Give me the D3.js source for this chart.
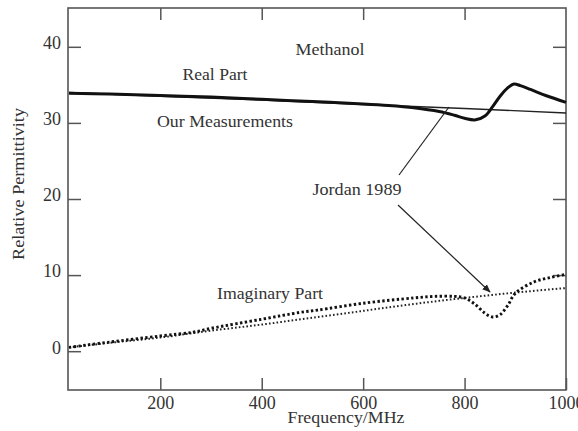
<!DOCTYPE html>
<html><head><meta charset="utf-8">
<script src="https://cdn.jsdelivr.net/npm/d3@7"></script>
<style>body{margin:0;background:#fff}svg{display:block}</style>
</head><body>
<svg id="c" width="578" height="431"></svg>
<script>
// ---- data ----
const realMeasFreq = [20,100,200,300,400,500,600,650,700,750,780,800,822,840,855,870,885,897,910,930,960,1000];
const realMeasVal  = [33.9,33.8,33.6,33.4,33.1,32.8,32.5,32.3,32.0,31.5,31.0,30.6,30.4,30.9,32.1,33.5,34.6,35.1,34.9,34.4,33.6,32.7];
const realJordFreq = [20,200,400,600,800,1000];
const realJordVal  = [34.0,33.5,33.0,32.4,31.9,31.3];
const imagMeasFreq = [20,100,200,265,300,400,476,510,600,700,740,780,800,820,840,855,870,885,900,937,970,1000];
const imagMeasVal  = [0.5,1.2,2.0,2.5,3.0,4.2,5.1,5.4,6.3,7.0,7.2,7.2,7.0,6.2,5.0,4.5,4.8,6.0,7.6,9.1,9.7,10.1];
const imagJordFreq = [20,100,200,300,400,500,600,700,800,900,1000];
const imagJordVal  = [0.5,1.1,1.8,2.7,3.5,4.4,5.3,6.2,7.0,7.7,8.3];
const xTicks = [200,400,600,800,1000];
const yTicks = [0,10,20,30,40];

const svg = d3.select('#c');
const L=68, R=566, T=8, B=390;
const x = d3.scaleLinear().domain([18,1000]).range([L,R]);
const y = d3.scaleLinear().domain([-5.1,45.1]).range([B,T]);
const font = '"Liberation Serif", "Times New Roman", serif';
const ink = '#333';
const axisCol = '#555';

// frame
svg.append('rect').attr('x',L).attr('y',T).attr('width',R-L).attr('height',B-T)
  .attr('fill','none').attr('stroke',axisCol).attr('stroke-width',1.6);

// axes with inward ticks
const gx = svg.append('g').attr('transform',`translate(0,${B})`)
  .call(d3.axisBottom(x).tickValues(xTicks).tickSize(-12).tickPadding(6).tickFormat(d3.format('d')));
const gxt = svg.append('g').attr('transform',`translate(0,${T})`)
  .call(d3.axisTop(x).tickValues(xTicks.slice(0,4)).tickSize(-12).tickFormat(''));
const gy = svg.append('g').attr('transform',`translate(${L},0)`)
  .call(d3.axisLeft(y).tickValues(yTicks).tickSize(-13).tickPadding(7).tickFormat(d3.format('d')));
const gyr = svg.append('g').attr('transform',`translate(${R},0)`)
  .call(d3.axisRight(y).tickValues(yTicks.slice(1)).tickSize(-13).tickFormat(''));
[gx,gxt,gy,gyr].forEach(g=>{
  g.select('.domain').remove();
  g.selectAll('.tick line').attr('stroke',axisCol).attr('stroke-width',1.5);
  g.selectAll('text').attr('font-family',font).attr('font-size',18).attr('fill',ink);
});
gy.selectAll('.tick text').attr('dy','0.1em');

const lab = (t,cx,cy,w)=>svg.append('text').attr('x',cx).attr('y',cy).attr('text-anchor','middle')
  .attr('font-family',font).attr('font-size',17).attr('fill',ink)
  .attr('textLength',w).attr('lengthAdjust','spacingAndGlyphs').text(t);

// axis titles
lab('Frequency/MHz',346,423,117);
lab('Relative Permittivity',0,0,152).attr('transform','translate(24,184) rotate(-90)');

const plot = svg.append('g');
const pts = (f,v)=>f.map((d,i)=>[x(d),y(v[i])]);

// Jordan real: thin solid
plot.append('path').attr('d',d3.line().curve(d3.curveMonotoneX)(pts(realJordFreq,realJordVal)))
  .attr('fill','none').attr('stroke','#222').attr('stroke-width',1.4);
// Measured real: thick solid
plot.append('path').attr('d',d3.line().curve(d3.curveCatmullRom)(pts(realMeasFreq,realMeasVal)))
  .attr('fill','none').attr('stroke','#111').attr('stroke-width',3);
// Jordan imag: fine dots
plot.append('path').attr('d',d3.line().curve(d3.curveMonotoneX)(pts(imagJordFreq,imagJordVal)))
  .attr('fill','none').attr('stroke','#222').attr('stroke-width',2)
  .attr('stroke-dasharray','1.6,2.2');
// Measured imag: heavier dots
plot.append('path').attr('d',d3.line().curve(d3.curveCatmullRom)(pts(imagMeasFreq,imagMeasVal)))
  .attr('fill','none').attr('stroke','#111').attr('stroke-width',2.9)
  .attr('stroke-dasharray','2.4,2.4');

// labels
lab('Methanol',330,55,69);
lab('Real Part',215,80,65);
lab('Our Measurements',225,127,136);
lab('Jordan 1989',357,195,89);
lab('Imaginary Part',270,299,106);

// arrows
const defs = svg.append('defs');
defs.append('marker').attr('id','ah').attr('viewBox','0 0 10 10').attr('refX',9).attr('refY',5)
  .attr('markerWidth',7).attr('markerHeight',7).attr('orient','auto')
  .append('path').attr('d','M0,1 L10,5 L0,9 Z').attr('fill','#222');
svg.append('line').attr('x1',399).attr('y1',175).attr('x2',449).attr('y2',107)
  .attr('stroke','#222').attr('stroke-width',1.2);
svg.append('line').attr('x1',398).attr('y1',205).attr('x2',490).attr('y2',292)
  .attr('stroke','#222').attr('stroke-width',1.2).attr('marker-end','url(#ah)');
</script>
</body></html>
